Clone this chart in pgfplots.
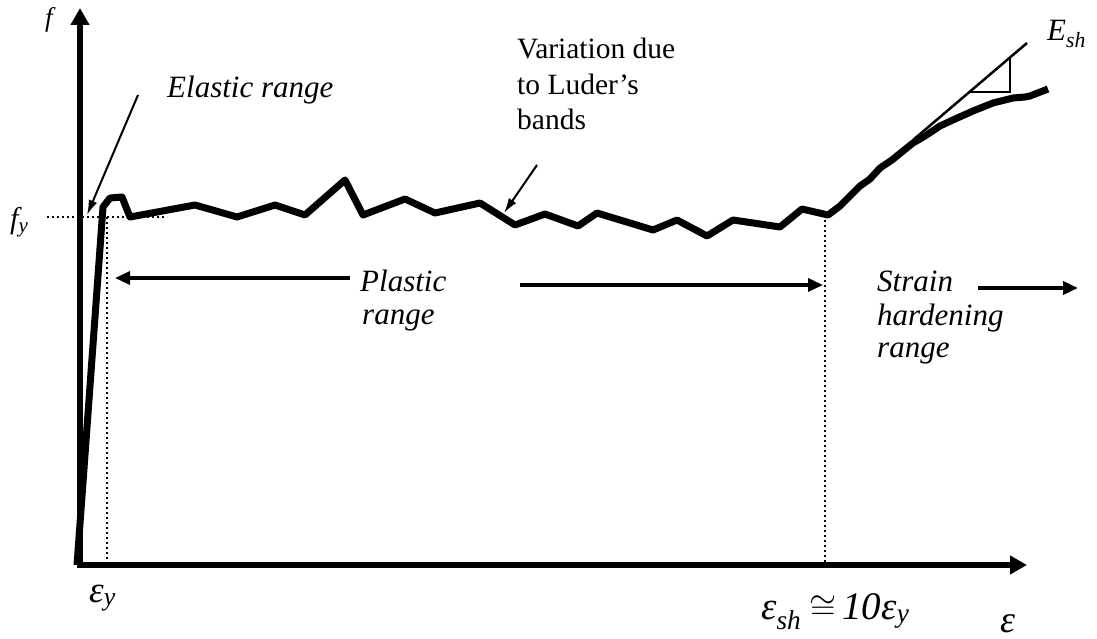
\documentclass[border=0pt]{standalone}
\usepackage{graphicx}
\usepackage{pgfplots}
\pgfplotsset{compat=1.18}
\usepackage{fontspec}
\setmainfont{Liberation Serif}
\usetikzlibrary{arrows.meta}
\newcommand\lab{\fontsize{31}{33}\selectfont\itshape}
\newcommand\mlab{\fontsize{39}{41}\selectfont\itshape}
\newcommand\vlab{\fontsize{29.5}{31}\selectfont}
\begin{document}
\begin{tikzpicture}
\begin{axis}[hide axis, scale only axis, x=1pt, y=1pt,
  xmin=0, xmax=1097, ymin=0, ymax=639, y dir=reverse, clip=false]
\path (axis cs:0,0) rectangle (axis cs:1097,639);
% axes
\addplot[line width=5.5pt, -{Triangle[length=17pt,width=18pt]}] coordinates {(80,567.5) (80,8)};
\addplot[line width=5.5pt, -{Triangle[length=17pt,width=18pt]}] coordinates {(77.5,565) (1027,565)};
% dotted guides
\addplot[line width=2pt, dash pattern=on 2pt off 3pt] coordinates {(47,217) (167,217)};
\addplot[line width=2pt, dash pattern=on 2pt off 3pt] coordinates {(107,217) (107,562)};
\addplot[line width=2pt, dash pattern=on 2pt off 3pt] coordinates {(825,215) (825,562)};
% stress-strain curve
\addplot[line width=7pt, line join=round] coordinates {
(77,565) (103,207) (110,198) (122,197) (130,217) (195,205) (237,217) (275,205)
(305,215) (345,180) (363,215) (405,199) (435,213) (480,203) (515,225) (545,214)
(578,226) (597,213) (653,230) (677,220) (707,236) (733,220) (780,227) (802,209)
(828,215) (840,206) (850,196) (860,186) (870,179) (880,168) (892,160) (903,151)
(913,143) (925,136) (940,126) (955,119) (973,111) (993,103) (1013,98) (1025,97)
(1030,96) (1048,89)};
% tangent and slope triangle
\addplot[line width=2.5pt] coordinates {(913,140) (1027,43)};
\addplot[line width=2.5pt] coordinates {(970,92) (1010,92) (1010,57.5)};
% annotation arrows
\addplot[line width=2pt, -{Latex[length=15pt,width=9pt]}] coordinates {(138,95) (87,215)};
\addplot[line width=2pt, -{Latex[length=15pt,width=9pt]}] coordinates {(537,165) (504,213)};
\addplot[line width=3.5pt, -{Triangle[length=15pt,width=13pt]}] coordinates {(350,278) (115,278)};
\addplot[line width=3.5pt, -{Triangle[length=15pt,width=13pt]}] coordinates {(520,285) (823,285)};
\addplot[line width=3.5pt, -{Triangle[length=15pt,width=13pt]}] coordinates {(978,288) (1078,288)};
% labels
\node[anchor=base west, inner sep=0pt] at (axis cs:45,27) {\fontsize{27}{29}\selectfont\itshape f};
\node[anchor=base west, inner sep=0pt] at (axis cs:10,229) {\fontsize{30}{32}\selectfont\itshape f\textsubscript{y}};
\node[anchor=base west, inner sep=0pt] at (axis cs:89,602) {\fontsize{37}{39}\selectfont\itshape ε\textsubscript{y}};
\node[anchor=base west, inner sep=0pt] at (axis cs:761,619) {\mlab ε\textsubscript{sh}\hspace{8pt}\scalebox{1.4}{$\cong$}\hspace{6pt}10ε\textsubscript{y}};
\node[anchor=base west, inner sep=0pt] at (axis cs:1000,632) {\fontsize{38}{40}\selectfont\itshape ε};
\node[anchor=base west, inner sep=0pt] at (axis cs:1047,41) {\lab E\textsubscript{sh}};
\node[anchor=base west, inner sep=0pt] at (axis cs:167,98) {\lab Elastic range};
\node[anchor=base west, inner sep=0pt] at (axis cs:360,291) {\lab Plastic};
\node[anchor=base west, inner sep=0pt] at (axis cs:362,324) {\lab range};
\node[anchor=base west, inner sep=0pt] at (axis cs:877,291) {\lab Strain};
\node[anchor=base west, inner sep=0pt] at (axis cs:877,325) {\lab hardening};
\node[anchor=base west, inner sep=0pt] at (axis cs:877,357) {\lab range};
\node[anchor=base west, inner sep=0pt] at (axis cs:517,59) {\vlab Variation due};
\node[anchor=base west, inner sep=0pt] at (axis cs:517,95) {\vlab to Luder’s};
\node[anchor=base west, inner sep=0pt] at (axis cs:517,130) {\vlab bands};
\end{axis}
\end{tikzpicture}
\end{document}
